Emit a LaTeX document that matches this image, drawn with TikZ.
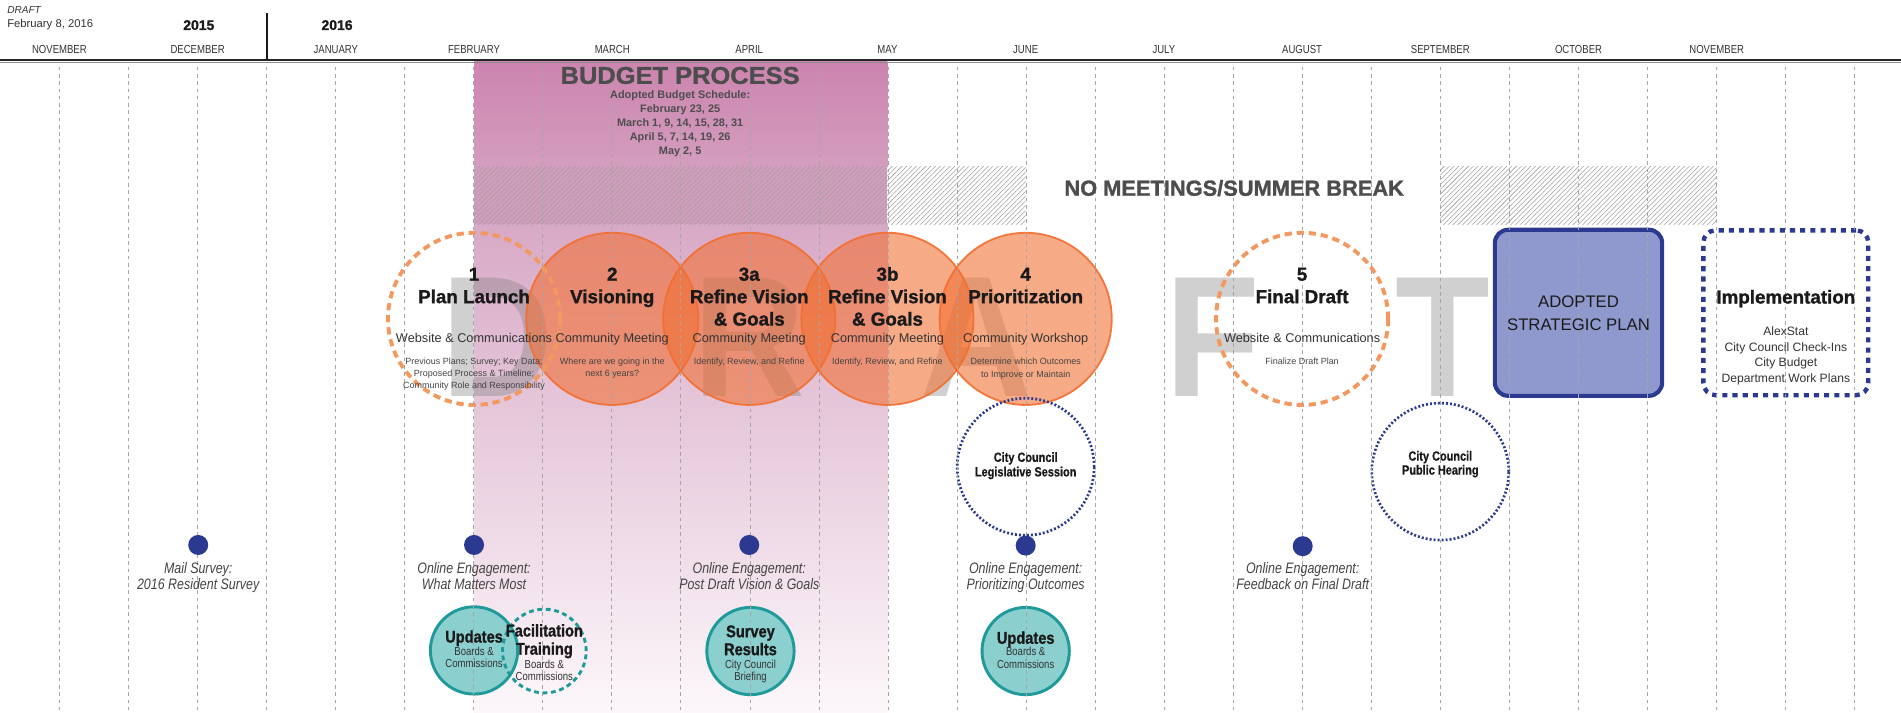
\documentclass[tikz,border=0pt]{standalone}
\usepackage{fontspec}
\setmainfont{Liberation Sans}
\newfontfamily\condf[FakeStretch=0.82]{Liberation Sans}
\newfontface\heavyf[FakeBold=1.3]{Liberation Sans Bold}
\newfontface\heavyc[FakeBold=1.1,FakeStretch=0.86]{Liberation Sans Bold}
\newfontface\heavys[FakeBold=0.6,FakeStretch=0.82]{Liberation Sans Bold}
\newfontface\heavyw[FakeBold=1.3,FakeStretch=1.05]{Liberation Sans Bold}
\newfontface\wmf[FakeStretch=0.9]{Liberation Sans Bold}
\usetikzlibrary{patterns.meta}
\newcommand{\fsz}[2]{\fontsize{#1}{#2}\selectfont}
\definecolor{pinkA}{HTML}{CC84AF}
\definecolor{pinkB}{HTML}{D49DBE}
\definecolor{pinkD}{HTML}{D8A9C6}
\definecolor{pinkE}{HTML}{FCF7FA}
\definecolor{orng}{HTML}{F26E30}
\definecolor{orngdash}{HTML}{F3995F}
\definecolor{navy}{HTML}{2B3990}
\definecolor{lav}{HTML}{8F99CD}
\definecolor{tealD}{HTML}{1E9A9A}
\definecolor{tealF}{HTML}{8CCFCF}
\definecolor{gridc}{HTML}{A5A5A5}
\definecolor{hatchc}{HTML}{A0A0A0}
\definecolor{txtd}{HTML}{1A1A1A}
\definecolor{txtm}{HTML}{333333}
\definecolor{txtl}{HTML}{444444}
\definecolor{txtg}{HTML}{4D4D4D}
\begin{document}
\begin{tikzpicture}[x=1pt,y=-1pt,
  txt/.style={inner sep=0pt, outer sep=0pt, text depth=0pt},
  ttl/.style={txt, font=\heavyf\fsz{15.5}{18}, text=txtd, text height=11.1pt},
  sub/.style={txt, font=\fsz{10.5}{12}, text=txtm, text height=7.5pt},
  sml/.style={txt, font=\fsz{7.4}{9}, text=txtl, text height=5.3pt},
  mon/.style={txt, font=\condf\fsz{9.6}{11}, text=txtm, text height=6.9pt},
  yr/.style={txt, font=\heavyf\fsz{11.5}{13}, text=txtd, text height=8.2pt},
  ital/.style={txt, font=\condf\itshape\fsz{12.5}{14}, text=txtl, text height=9pt},
  tealt/.style={txt, font=\heavyc\fsz{14}{15}, text=txtd, text height=10pt},
  tealsm/.style={txt, font=\condf\fsz{9.6}{11}, text=txtm, text height=6.9pt},
  ccl/.style={txt, font=\heavys\fsz{11}{12}, text=txtd, text height=7.9pt},
  bp/.style={txt, font=\heavyw\fsz{20}{22}, text=txtg, text height=14.3pt},
  bps/.style={txt, font=\bfseries\fsz{9}{11}, text=txtg, text height=6.4pt},
  nm/.style={txt, font=\heavyf\fsz{18}{20}, text=txtg, text height=12.9pt},
  adt/.style={txt, font=\fsz{13.8}{16}, text=txtd, text height=9.9pt},
  imt/.style={txt, font=\fsz{10}{12}, text=txtm, text height=7.2pt},
  wm/.style={anchor=base, inner sep=0pt, font=\wmf\fsz{142}{142}, text=gray, text opacity=0.37},
  ofill/.style={circle, inner sep=0pt, minimum size=142pt, fill=orng, fill opacity=0.58, draw=orng, draw opacity=0.9, line width=1.5pt},
  odash/.style={circle, inner sep=0pt, minimum size=142pt, draw=orngdash, line width=3.2pt, dash pattern=on 6pt off 4pt},
  adopt/.style={rectangle, inner sep=0pt, rounded corners=11pt, minimum width=138pt, minimum height=137pt, fill=lav, draw=navy, line width=3.4pt},
  impl/.style={rectangle, inner sep=0pt, rounded corners=10pt, minimum width=136pt, minimum height=136pt, draw=navy, line width=3.6pt, dash pattern=on 4.2pt off 4.2pt},
  ccirc/.style={circle, inner sep=0pt, minimum size=113pt, draw=navy, line width=2.2pt, dash pattern=on 1.6pt off 1.7pt},
  ndot/.style={circle, inner sep=0pt, minimum size=16.5pt, fill=navy},
  tcirc/.style={circle, inner sep=0pt, minimum size=72pt, fill=tealF, draw=tealD, line width=2.4pt},
  tdash/.style={circle, inner sep=0pt, minimum size=69pt, draw=tealD, line width=2.4pt, dash pattern=on 4pt off 3pt},
  gridl/.style={gridc, line width=0.55pt, dash pattern=on 3pt off 3pt},
  hatch/.style={pattern={Lines[angle=45,distance=2.8pt,line width=0.45pt]}, pattern color=hatchc}
]
\useasboundingbox (0,0) rectangle (1568,588);
\fill[white] (0,0) rectangle (1568,588);

% budget column
\shade[top color=pinkA, bottom color=pinkB] (391,51) rectangle (732,137);
\fill[pinkB] (391,137) rectangle (732,185);
\shade[top color=pinkD, bottom color=pinkE] (391,185) rectangle (732,588);
% hatched bands
\fill[hatch] (391,137) rectangle (846,185);
\fill[hatch] (1188,137) rectangle (1416,185);

% DRAFT watermark
\node[wm] (wD) at (410,327) {D};
\node[wm] (wR) at (618,327) {R};
\node[wm] (wA) at (805,327) {A};
\node[wm] (wF) at (1000,327) {F};
\node[wm] (wT) at (1190,327) {T};

% orange circles
\node[ofill] (c2) at (505,263) {};
\node[ofill] (c3a) at (618,263) {};
\node[ofill] (c3b) at (732,263) {};
\node[ofill] (c4) at (846,263) {};
\node[odash] (c1) at (391,263) {};
\node[odash] (c5) at (1074,263) {};

% boxes
\node[adopt] (bAd) at (1302,258) {};
\node[impl] (bIm) at (1473,258) {};

% city council
\node[ccirc] (cc1) at (846,385) {};
\node[ccirc] (cc2) at (1188,389) {};

% teal circles
\node[tcirc] (u1) at (391,536.5) {};
\node[tdash] (f1) at (449,537) {};
\node[tcirc] (sr) at (619,537) {};
\node[tcirc] (u2) at (846,537) {};

% grid
\foreach \i in {0,...,26}{\draw[gridl] ({49+56.95*\i},55) -- ({49+56.95*\i},588);}

% dots
\node[ndot] (d1) at (163.5,449.5) {};
\node[ndot] (d2) at (391,449.5) {};
\node[ndot] (d3) at (618,449.5) {};
\node[ndot] (d4) at (846,450) {};
\node[ndot] (d5) at (1074.5,450.5) {};

% header
\draw[black!85, line width=1.6pt] (0,49.5) -- (1568,49.5);
\draw[black!45, line width=1.1pt] (0,51.6) -- (1568,51.6);
\draw[black!90, line width=1.8pt] (220,11) -- (220,49.5);
\node[txt, anchor=west, font=\itshape\fsz{8.3}{10}, text=txtm, text height=6pt] (hDr) at (6,8.3) {DRAFT};
\node[txt, anchor=west, font=\fsz{9.3}{11}, text=txtm, text height=6.7pt] (hDt) at (6,19.3) {February 8, 2016};
\node[yr] (y15) at (164,20.6) {2015};
\node[yr] (y16) at (278,20.6) {2016};
\node[mon] (m1) at (49,40.4) {NOVEMBER};
\node[mon] (m2) at (163,40.4) {DECEMBER};
\node[mon] (m3) at (277,40.4) {JANUARY};
\node[mon] (m4) at (391,40.4) {FEBRUARY};
\node[mon] (m5) at (505,40.4) {MARCH};
\node[mon] (m6) at (618,40.4) {APRIL};
\node[mon] (m7) at (732,40.4) {MAY};
\node[mon] (m8) at (846,40.4) {JUNE};
\node[mon] (m9) at (960,40.4) {JULY};
\node[mon] (m10) at (1074,40.4) {AUGUST};
\node[mon] (m11) at (1188,40.4) {SEPTEMBER};
\node[mon] (m12) at (1302,40.4) {OCTOBER};
\node[mon] (m13) at (1416,40.4) {NOVEMBER};

% budget text
\node[bp] (bpT) at (561,62) {BUDGET PROCESS};
\node[bps] (bs1) at (561,78.4) {Adopted Budget Schedule:};
\node[bps] (bs2) at (561,90) {February 23, 25};
\node[bps] (bs3) at (561,101.5) {March 1, 9, 14, 15, 28, 31};
\node[bps] (bs4) at (561,112.8) {April 5, 7, 14, 19, 26};
\node[bps] (bs5) at (561,124) {May 2, 5};
\node[nm] (nmT) at (1018,155) {NO MEETINGS/SUMMER BREAK};

% circle 1
\node[ttl] (n1) at (391,226) {1};
\node[ttl] (t1) at (391,244.5) {Plan Launch};
\node[sub] (s1) at (391,279) {Website \& Communications};
\node[sml] (a1) at (391,298) {Previous Plans; Survey; Key Data;};
\node[sml] (b1) at (391,308) {Proposed Process \& Timeline;};
\node[sml] (e1) at (391,318) {Community Role and Responsibility};
% circle 2
\node[ttl] (n2) at (505,226) {2};
\node[ttl] (t2) at (505,244.5) {Visioning};
\node[sub] (s2) at (505,279) {Community Meeting};
\node[sml] (a2) at (505,298) {Where are we going in the};
\node[sml] (b2) at (505,308) {next 6 years?};
% circle 3a
\node[ttl] (n3) at (618,226) {3a};
\node[ttl] (t3) at (618,244.5) {Refine Vision};
\node[ttl] (g3) at (618,263) {\& Goals};
\node[sub] (s3) at (618,279) {Community Meeting};
\node[sml] (a3) at (618,298) {Identify, Review, and Refine};
% circle 3b
\node[ttl] (n3b) at (732,226) {3b};
\node[ttl] (t3b) at (732,244.5) {Refine Vision};
\node[ttl] (g3b) at (732,263) {\& Goals};
\node[sub] (s3b) at (732,279) {Community Meeting};
\node[sml] (a3b) at (732,298) {Identify, Review, and Refine};
% circle 4
\node[ttl] (n4) at (846,226) {4};
\node[ttl] (t4) at (846,244.5) {Prioritization};
\node[sub] (s4) at (846,279) {Community Workshop};
\node[sml] (a4) at (846,298) {Determine which Outcomes};
\node[sml] (b4) at (846,308.5) {to Improve or Maintain};
% circle 5
\node[ttl] (n5) at (1074,226) {5};
\node[ttl] (t5) at (1074,244.5) {Final Draft};
\node[sub] (s5) at (1074,279) {Website \& Communications};
\node[sml] (a5) at (1074,298) {Finalize Draft Plan};

% adopted / implementation
\node[adt] (ad1) at (1302,249) {ADOPTED};
\node[adt] (ad2) at (1302,268) {STRATEGIC PLAN};
\node[ttl] (im0) at (1473,244.8) {Implementation};
\node[imt] (im1) at (1473,273) {AlexStat};
\node[imt] (im2) at (1473,286) {City Council Check-Ins};
\node[imt] (im3) at (1473,299) {City Budget};
\node[imt] (im4) at (1473,312) {Department Work Plans};

% city council labels
\node[ccl] (cl1) at (846,377) {City Council};
\node[ccl] (cl2) at (846,389) {Legislative Session};
\node[ccl] (ch1) at (1188,376) {City Council};
\node[ccl] (ch2) at (1188,387.5) {Public Hearing};

% italic labels
\node[ital] (i1a) at (163.5,468.5) {Mail Survey:};
\node[ital] (i1b) at (163.5,482) {2016 Resident Survey};
\node[ital] (i2a) at (391,468.5) {Online Engagement:};
\node[ital] (i2b) at (391,482) {What Matters Most};
\node[ital] (i3a) at (618,468.5) {Online Engagement:};
\node[ital] (i3b) at (618,482) {Post Draft Vision \& Goals};
\node[ital] (i4a) at (846,468.5) {Online Engagement:};
\node[ital] (i4b) at (846,482) {Prioritizing Outcomes};
\node[ital] (i5a) at (1074.5,468.5) {Online Engagement:};
\node[ital] (i5b) at (1074.5,482) {Feedback on Final Draft};

% teal labels
\node[tealt] (u1t) at (391,525) {Updates};
\node[tealsm] (u1a) at (391,537) {Boards \&};
\node[tealsm] (u1b) at (391,547.5) {Commissions};
\node[tealt] (f1t) at (449,520) {Facilitation};
\node[tealt] (f1u) at (449,535) {Training};
\node[tealsm] (f1a) at (449,548) {Boards \&};
\node[tealsm] (f1b) at (449,558) {Commissions};
\node[tealt] (srt) at (619,520.6) {Survey};
\node[tealt] (sru) at (619,535.4) {Results};
\node[tealsm] (sra) at (619,548) {City Council};
\node[tealsm] (srb) at (619,558) {Briefing};
\node[tealt] (u2t) at (846,526) {Updates};
\node[tealsm] (u2a) at (846,537) {Boards \&};
\node[tealsm] (u2b) at (846,548) {Commissions};
\end{tikzpicture}
\end{document}
